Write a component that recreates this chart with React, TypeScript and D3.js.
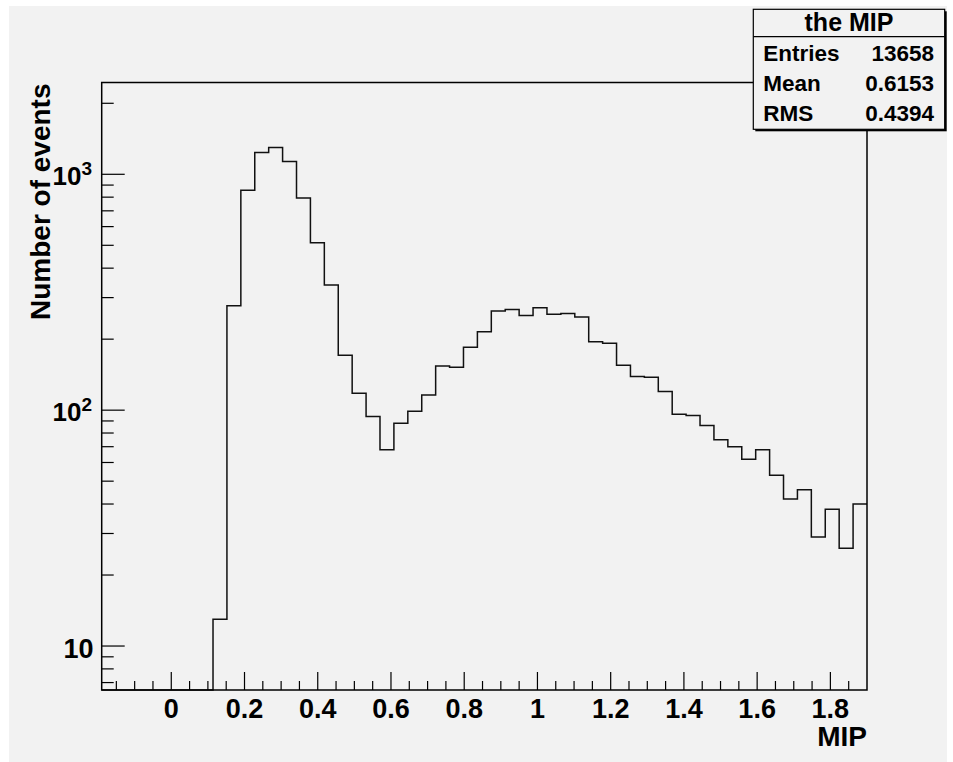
import React from "react";
import * as d3 from "d3";

// ---- data ----
const binLow = -0.19;
const binHigh = 1.9;
const counts = [
  0, 0, 0, 0, 0, 0, 0, 0, 13, 277, 856, 1236, 1298, 1133, 794, 512, 339, 171,
  118, 94, 68, 88, 99, 116, 154, 152, 185, 215, 263, 267, 252, 272, 255, 257,
  248, 195, 192, 155, 139, 138, 120, 96, 95, 86, 75, 70, 62, 68, 53, 42, 46,
  29, 38, 26, 40,
];
const xTickValues = [0, 0.2, 0.4, 0.6, 0.8, 1, 1.2, 1.4, 1.6, 1.8];
const xTickLabels = ["0", "0.2", "0.4", "0.6", "0.8", "1", "1.2", "1.4", "1.6", "1.8"];
const yMajorValues = [10, 100, 1000];
const yTickBase = ["10", "10", "10"];
const yTickExp = ["", "2", "3"];
const yDomain = [6.51, 2450];
const xTitle = "MIP";
const yTitle = "Number of events";
const statsTitle = "the MIP";
const statsNames = ["Entries", "Mean", "RMS"];
const statsValues = ["13658", "0.6153", "0.4394"];

// ---- layout ----
const W = 953;
const H = 762;
const L = 101.7;
const R = 867;
const T = 82.5;
const B = 690;
const FONT = "'Liberation Sans', Arial, Helvetica, sans-serif";

export default function App() {
  const x = d3.scaleLinear().domain([binLow, binHigh]).range([L, R]);
  const y = d3.scaleLog().domain(yDomain).range([B, T]).clamp(true);
  const nb = counts.length;
  const bw = (binHigh - binLow) / nb;

  const pts: [number, number][] = [];
  counts.forEach((c, i) => {
    const v = c > 0 ? c : yDomain[0];
    pts.push([x(binLow + i * bw), y(v)]);
    pts.push([x(binLow + (i + 1) * bw), y(v)]);
  });
  const line = d3.line();
  const histPath = line(pts) || "";

  // minor x ticks every 0.05
  const xMinor = d3
    .range(-0.15, 1.9, 0.05)
    .filter((v) => Math.abs(Math.round(v / 0.2) * 0.2 - v) > 1e-6);
  // minor y ticks
  const yMinor: number[] = [];
  [1, 10, 100, 1000].forEach((dec) => {
    for (let k = 2; k <= 9; k++) {
      const v = dec * k;
      if (v >= yDomain[0] && v <= yDomain[1]) yMinor.push(v);
    }
  });

  const bx = 753.3;
  const by = 9.3;
  const bW = 944.7 - 753.3;
  const bH = 129.3 - 9.3;

  return (
    <svg
      width={W}
      height={H}
      style={{ position: "absolute", left: 0, top: 0 }}
      fontFamily={FONT}
      fontWeight="bold"
    >
      <rect x={0} y={0} width={W} height={H} fill="#ffffff" />
      <rect x={9} y={6} width={938} height={756} fill="#f2f2f2" />

      {/* histogram */}
      <path d={histPath} fill="none" stroke="#111" strokeWidth={1.5} />

      {/* frame */}
      <rect x={L} y={T} width={R - L} height={B - T} fill="none" stroke="#000" strokeWidth={1.5} />

      {/* x ticks */}
      {xTickValues.map((v) => (
        <line key={"xM" + v} x1={x(v)} x2={x(v)} y1={B} y2={B - 18} stroke="#000" strokeWidth={1.2} />
      ))}
      {xMinor.map((v, i) => (
        <line key={"xm" + i} x1={x(v)} x2={x(v)} y1={B} y2={B - 9} stroke="#000" strokeWidth={1.2} />
      ))}
      {xTickValues.map((v, i) => (
        <text key={"xl" + v} x={x(v)} y={718} textAnchor="middle" fontSize={27} fill="#000">
          {xTickLabels[i]}
        </text>
      ))}
      <text x={R} y={745.5} textAnchor="end" fontSize={28} fill="#000">
        {xTitle}
      </text>

      {/* y ticks */}
      {yMajorValues.map((v) => (
        <line key={"yM" + v} x1={L} x2={L + 23} y1={y(v)} y2={y(v)} stroke="#000" strokeWidth={1.2} />
      ))}
      {yMinor.map((v) => (
        <line key={"ym" + v} x1={L} x2={L + 12} y1={y(v)} y2={y(v)} stroke="#000" strokeWidth={1.2} />
      ))}
      {yMajorValues.map((v, i) =>
        yTickExp[i] ? (
          <g key={"yl" + v}>
            <text x={81.5} y={y(v) + 11} textAnchor="end" fontSize={26} fill="#000">
              {yTickBase[i]}
            </text>
            <text x={81.5} y={y(v) + 1} textAnchor="start" fontSize={19} fill="#000">
              {yTickExp[i]}
            </text>
          </g>
        ) : (
          <text key={"yl" + v} x={93.5} y={y(v) + 12} textAnchor="end" fontSize={27} fill="#000">
            {yTickBase[i]}
          </text>
        )
      )}
      <text
        transform={`translate(50, ${T + 1}) rotate(-90)`}
        textAnchor="end"
        fontSize={28}
        fill="#000"
      >
        {yTitle}
      </text>

      {/* stats box */}
      <rect x={bx + 2} y={by + 2} width={bW} height={bH} fill="#000" />
      <rect x={bx} y={by} width={bW} height={bH} fill="#f2f2f2" stroke="#000" strokeWidth={1.2} />
      <line x1={bx} x2={bx + bW} y1={36.7} y2={36.7} stroke="#000" strokeWidth={1.2} />
      <text x={bx + bW / 2} y={31} textAnchor="middle" fontSize={25} fill="#000">
        {statsTitle}
      </text>
      {statsNames.map((n, i) => (
        <g key={n}>
          <text x={763.3} y={60.5 + i * 30.3} textAnchor="start" fontSize={22.5} fill="#000">
            {n}
          </text>
          <text x={934} y={60.5 + i * 30.3} textAnchor="end" fontSize={22.5} fill="#000">
            {statsValues[i]}
          </text>
        </g>
      ))}
    </svg>
  );
}
